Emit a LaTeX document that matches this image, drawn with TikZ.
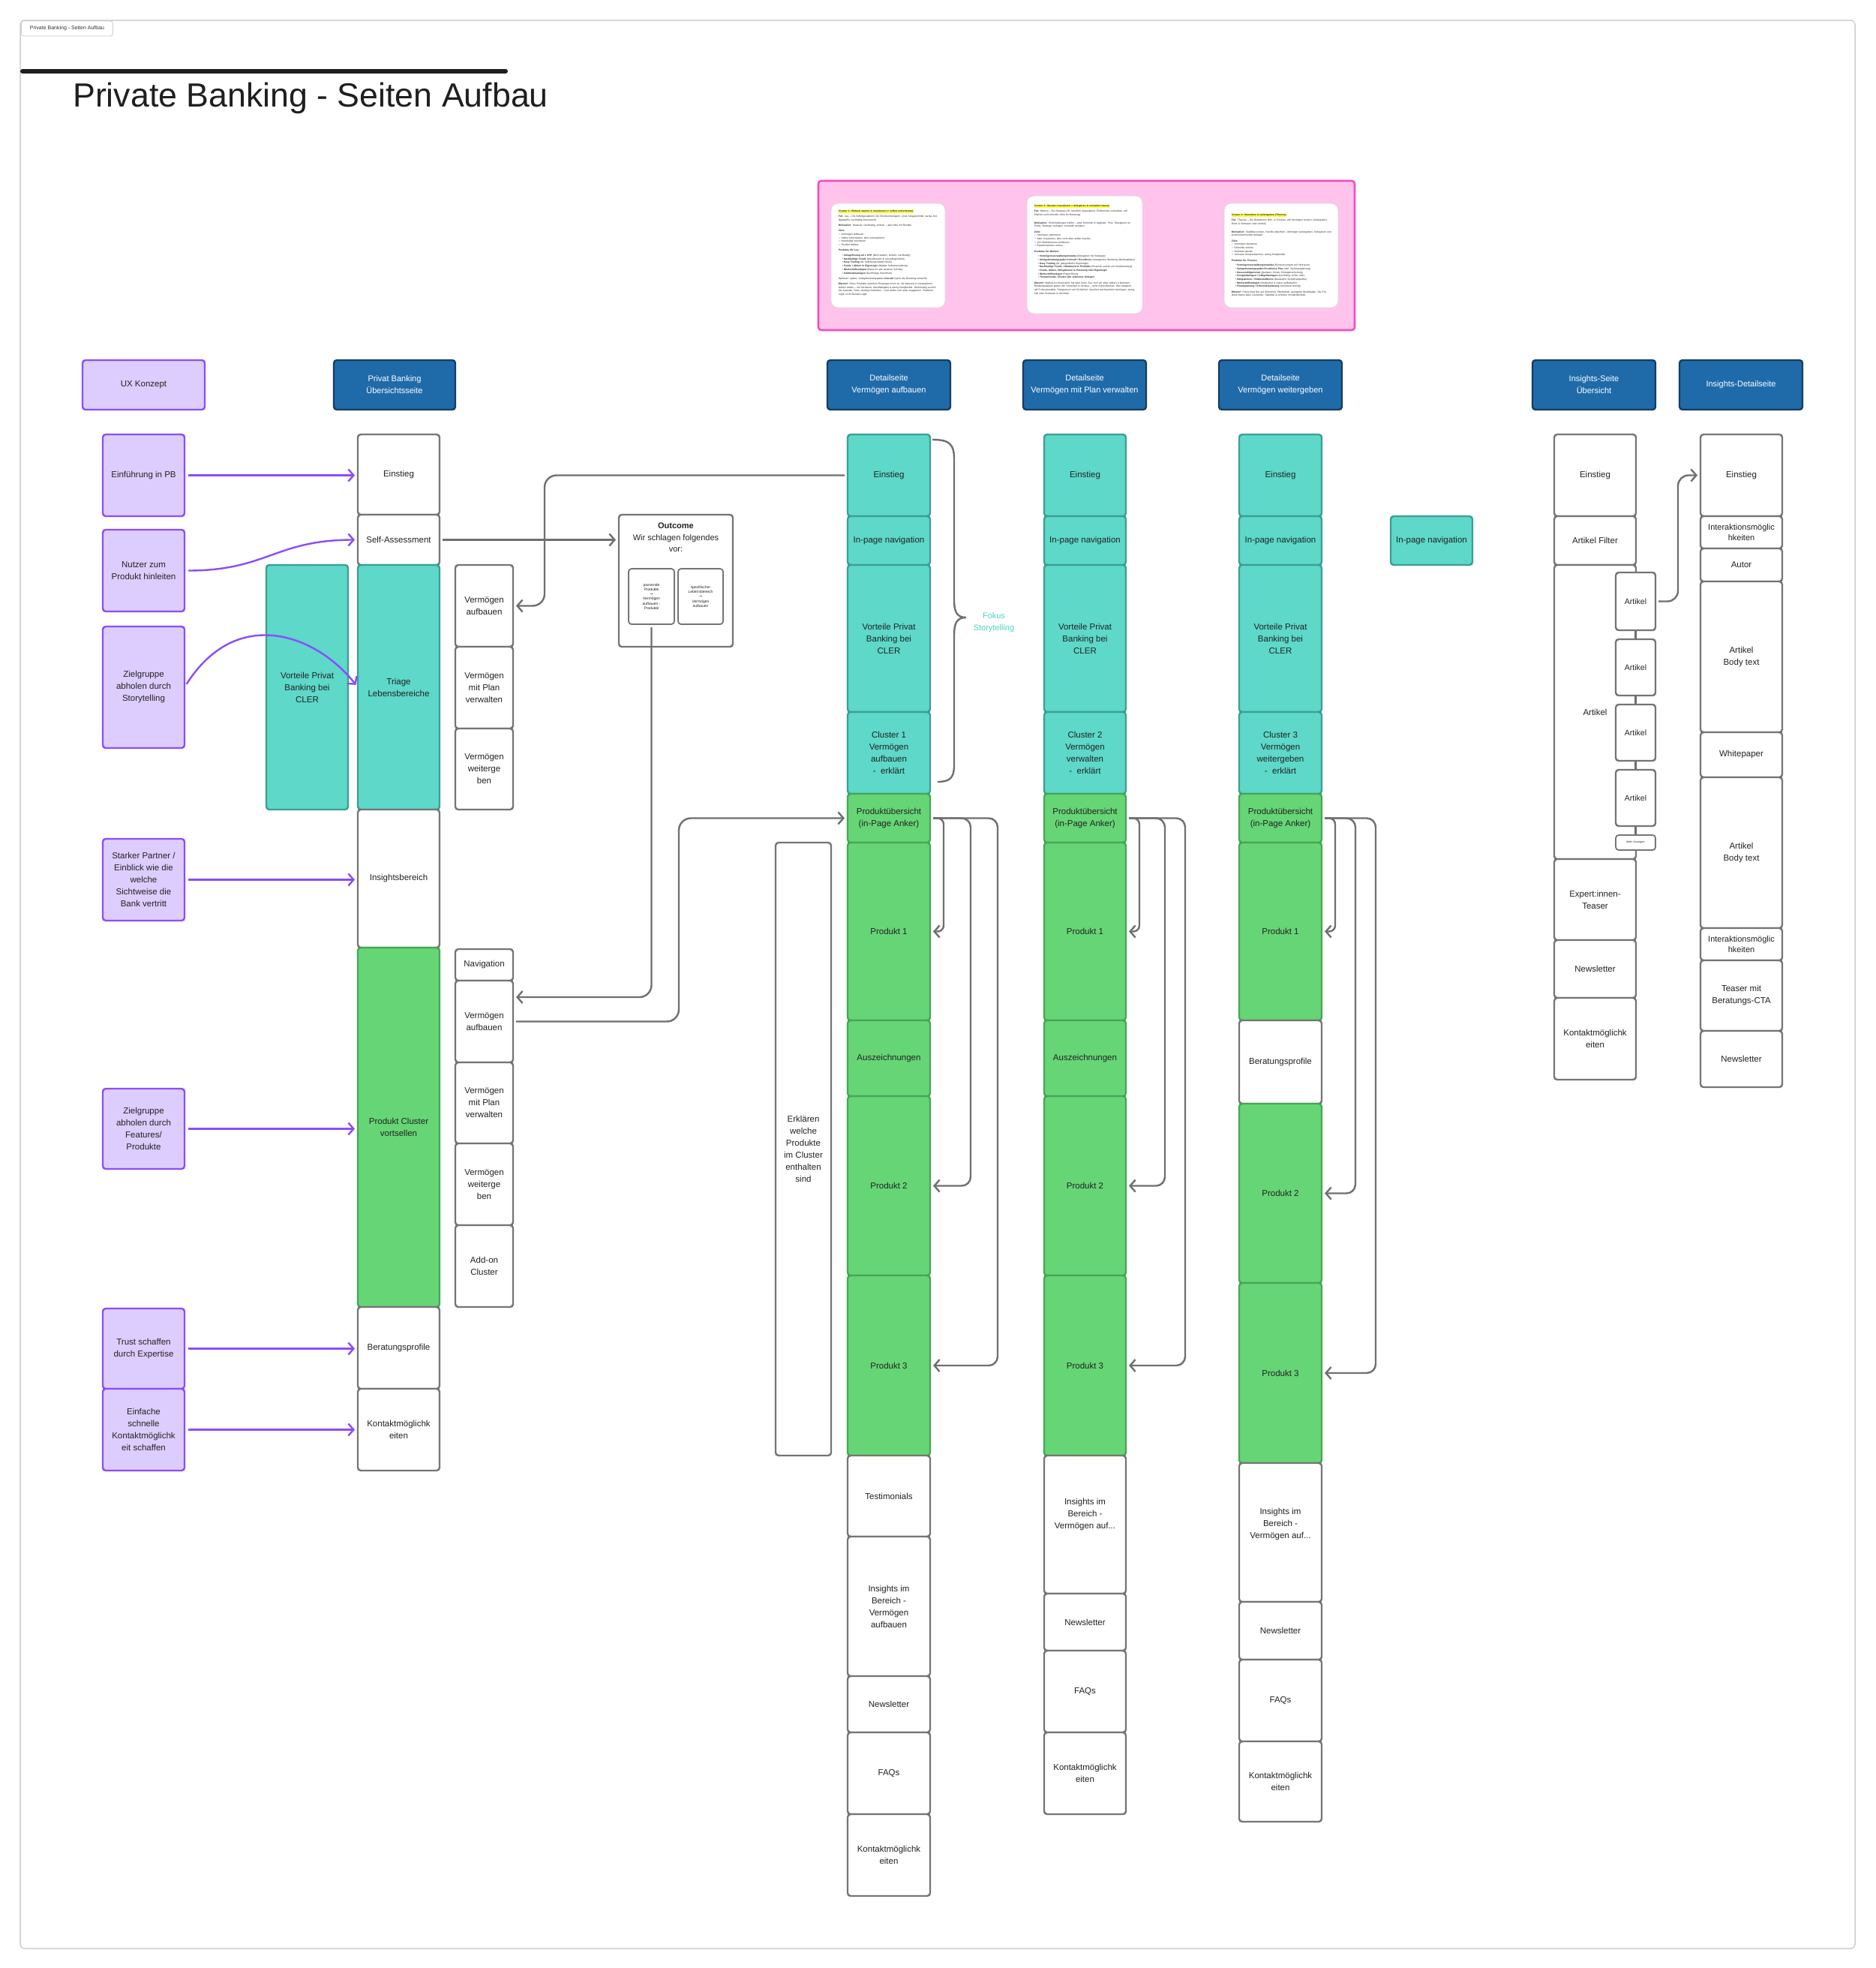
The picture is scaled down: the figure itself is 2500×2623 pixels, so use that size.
\documentclass[tikz,border=0pt]{standalone}
\usepackage{fontspec}
\setmainfont{Liberation Sans}
\newfontfamily\symf{DejaVu Sans}
\usetikzlibrary{arrows.meta,calc}

\definecolor{bordergray}{HTML}{757575}
\definecolor{linegray}{HTML}{6F6F6F}
\definecolor{tealfill}{HTML}{5DD8C9}
\definecolor{tealborder}{HTML}{3B9F92}
\definecolor{greenfill}{HTML}{66D576}
\definecolor{greenborder}{HTML}{46A656}
\definecolor{lavfill}{HTML}{DDCDFE}
\definecolor{lavborder}{HTML}{8B4DFB}
\definecolor{hdrfill}{HTML}{1F6BAA}
\definecolor{hdrborder}{HTML}{163D63}
\definecolor{purplearrow}{HTML}{8B4DFB}
\definecolor{pinkfill}{HTML}{FFC3EC}
\definecolor{pinkborder}{HTML}{F24DC2}
\definecolor{textdark}{HTML}{222222}
\definecolor{framegray}{HTML}{CFCFCF}
\definecolor{fokusteal}{HTML}{52D2C2}
\definecolor{hlyellow}{HTML}{FFFF33}
\definecolor{checkblue}{HTML}{4B3BD6}

\newcommand\myBoxFont{\fontsize{11.5}{16}\selectfont}
\newcommand\myHdrFont{\fontsize{11}{16}\selectfont}
\newcommand\myTinyFont{\fontsize{5}{6.3}\selectfont}
\newcommand\myCardFont{\fontsize{3.3}{4.7}\selectfont}
\newcommand\ck{{\symf\color{checkblue}\char"2713}~}
\newcommand\bul{\hspace*{5pt}\textbullet~}
\newcommand\rarr{{\symf\char"2192}}

\newcommand\mybox[7]{\node[#1, minimum width={#5-#3}, minimum height={#6-#4}] (#2) at ({(#3+#5)/2},{(#4+#6)/2}) {#7};}

\tikzset{
  boxbase/.style={rounded corners=4pt, line width=2.4pt, inner sep=1.5pt, outer sep=0pt, align=center, font=\myBoxFont, text=textdark},
  wb/.style={boxbase, draw=bordergray, fill=white},
  tl/.style={boxbase, draw=tealborder, fill=tealfill},
  gr/.style={boxbase, draw=greenborder, fill=greenfill},
  lav/.style={boxbase, draw=lavborder, fill=lavfill},
  hdr/.style={boxbase, draw=hdrborder, fill=hdrfill, text=white, font=\myHdrFont},
  pinkp/.style={rounded corners=4pt, line width=2.6pt, draw=pinkborder, fill=pinkfill},
  cardbox/.style={rounded corners=9pt, line width=0.8pt, draw=black!15, fill=white},
  cardtext/.style={anchor=north west, text width=#1, align=left, inner sep=0pt, font=\myCardFont, text=black!85},
  garrow/.style={draw=linegray, line width=2.4pt, rounded corners=12pt, shorten <=4pt, shorten >=4pt, -{Straight Barb[length=7pt,width=16pt]}},
  parrow/.style={draw=purplearrow, line width=2.4pt, shorten <=5pt, shorten >=4pt, -{Straight Barb[length=7pt,width=16pt]}},
  gline/.style={draw=linegray, line width=2.4pt},
}

\begin{document}
\begin{tikzpicture}[x=1pt,y=-1pt]
\useasboundingbox (0,0) rectangle (2500,2623);
\fill[white] (0,0) rectangle (2500,2623);
\draw[framegray, line width=1.5pt, rounded corners=6pt] (27,27) rectangle (2473,2597);

% tab and title
\node[draw=black!20, line width=0.8pt, rounded corners=3pt, fill=white, minimum width=122, minimum height=20, inner sep=1pt, font=\fontsize{7}{8}\selectfont, text=black!80] (tab) at (89.5,38) {Private Banking - Seiten Aufbau};
\draw[line width=6pt, line cap=round, black!88] (30,95) -- (674,95);
\node[anchor=base west, inner sep=0pt, font=\fontsize{44.7}{50}\selectfont, text=black!88] (title) at (97,142) {Private Banking - Seiten Aufbau};

% pink panel with persona cards
\mybox{pinkp}{pink}{1091}{241}{1806}{440}{}
\mybox{cardbox}{c1}{1108}{271}{1260}{410}{}
\mybox{cardbox}{c2}{1369}{261}{1523}{418}{}
\mybox{cardbox}{c3}{1632}{271}{1784}{410}{}
\setlength\fboxsep{0.4pt}
\node[cardtext=133pt] (c1t) at ($(c1.north west)+(10,9)$) {\colorbox{hlyellow}{\textbf{Cluster 1: Einfach starten \& investieren (+ selbst entscheiden)}}\\[2.5pt]
\textbf{Für:} Lea – Die Selbstgestalterin (30, Berufseinsteigerin, erste Anlageschritte, wenig Zeit, digitalaffin, nachhaltig interessiert)\\[2.5pt]
\textbf{Motivation:} Bewusst, nachhaltig, einfach – aber bitte mit Rendite\\[2.5pt]
\textbf{Ziele:}\\
\ck Vermögen aufbauen\\
\ck Selbst entscheiden, aber unkompliziert\\
\ck Nachhaltig investieren\\
\ck Flexibel bleiben\\[2.5pt]
\textbf{Produkte für Lea:}\\[2pt]
\bul\textbf{Anlagelösung ab 1 CHF} (klein starten, einfach, nachhaltig)\\
\bul\textbf{Nachhaltige Fonds} (Wertebasiert \& zukunftsgerichtet)\\
\bul\textbf{Easy Trading} (für Selbstentscheider:innen)\\
\bul\textbf{Fonds / Aktien in Eigenregie} (digitale Selbstverwaltung)\\
\bul\textbf{Wertschriftendepot} (Basis für alle weiteren Schritte)\\
\bul\textbf{Geldmarktanlagen} (kurzfristige Sicherheit)\\[2.5pt]
Optional / später: Anlageberatungspaket \textbf{Consult} (wenn die Beratung wünscht)\\[2.5pt]
\textbf{Warum?} Diese Produkte sprechen Einsteiger:innen an, die bewusst \& unkompliziert starten wollen – mit Vertrauen, Nachhaltigkeit \& wenig Komplexität. Gleichzeitig suchen Sie Auswahl, Tools, niedrige Gebühren – und wollen sich aktiv engagieren. Plattform-Logik, nicht Berater-Logik.};
\node[cardtext=135pt] (c2t) at ($(c2.north west)+(10,12)$) {\colorbox{hlyellow}{\textbf{Cluster 2: Beraten investieren = delegieren \& verwalten lassen}}\\[2.5pt]
\textbf{Für:} Markus – Der Stratege (45, beruflich eingespannt, Einkommen vorhanden, will Klarheit und Kontrolle, offen für Beratung)\\[6pt]
\textbf{Motivation:} Entscheidungen treffen – aber informiert \& begleitet. Plus: Delegieren an Profis, Strategie verfolgen, Kontrolle behalten\\[2.5pt]
\textbf{Ziele:}\\
\ck Vermögen optimieren\\
\ck Aktiv investieren, aber nicht alles selber machen\\
\ck Von Marktchancen profitieren\\
\ck Expertenwissen nutzen\\[2.5pt]
\textbf{Produkte für Markus:}\\[2pt]
\bul\textbf{Vermögensverwaltungsmandat} (Delegation mit Strategie)\\
\bul\textbf{Anlageberatungspaket Consult / Excellence} (strategische Beratung, Marktupdates)\\
\bul\textbf{Easy Trading} (für gelegentliche Eigenregie)\\
\bul\textbf{Nachhaltige Fonds / Strukturierte Produkte} (Chancen nutzen mit Verantwortung)\\
\bul\textbf{Fonds, Aktien, Obligationen in Beratung oder Eigenregie}\\
\bul\textbf{Wertschriftendepot} (Depot-Basis)\\
\bul\textbf{Themenfonds / Exoten (für erfahrene Anleger)}\\[2.5pt]
\textbf{Warum?} Markus ist interessiert, hat aber keine Zeit, sich um alles selbst zu kümmern. Beratungspakete geben ihm Sicherheit \& Struktur – ohne Kontrollverlust. Wer delegiert, will Professionalität, Transparenz und Sicherheit. Ideal bei wachsendem Vermögen, wenig Zeit oder Vertrauen in die Bank.};
\node[cardtext=133pt] (c3t) at ($(c3.north west)+(10,14)$) {\colorbox{hlyellow}{\textbf{Cluster 3: Bewahren \& weitergeben (Therese)}}\\[2.5pt]
\textbf{Für:} Therese – Die Bewahrerin (60+, in Pension, will Vermögen sichern, weitergeben, Ruhe \& Vertrauen sind zentral)\\[6pt]
\textbf{Motivation:} Stabilität sichern, Familie absichern, Vermögen weitergeben. Delegieren und sicherheitsorientiert anlegen.\\[2.5pt]
\textbf{Ziele:}\\
\ck Vermögen bewahren\\
\ck Einkünfte sichern\\
\ck Nachlass planen\\
\ck Vertraute Ansprechperson, wenig Komplexität\\[2.5pt]
\textbf{Produkte für Therese:}\\[2pt]
\bul\textbf{Vermögensverwaltungsmandat} (Rundum-sorglos mit Vertrauen)\\
\bul\textbf{Anlageberatungspaket Excellence Plus} (inkl. Nachlassplanung)\\
\bul\textbf{Kassenobligationen} (planbare Zinsen, Einlagensicherung)\\
\bul\textbf{Festgeldanlagen / Callgeldanlagen} (kurzfristig, sicher, klar)\\
\bul\textbf{Obligationen / Edelmetallkonto} (klassische Sicherheitspuffer)\\
\bul\textbf{Wertschriftendepot} (strukturiert \& sicher aufbewahrt)\\
\bul\textbf{Finanzplanung / Erbschaftsplanung} (emotional wichtig)\\[2.5pt]
\textbf{Warum?} Fokus liegt hier auf Sicherheit, Planbarkeit, geregelter Weitergabe. Die Produkte bieten klare Laufzeiten, Stabilität \& einfache Verständlichkeit.};

% headers
\mybox{lav}{hux}{110}{480}{273}{546}{UX Konzept}
\mybox{hdr}{h1}{445}{480}{607}{546}{Privat Banking\\Übersichtsseite}
\mybox{hdr}{h2}{1103}{480}{1267}{546}{Detailseite\\Vermögen aufbauen}
\mybox{hdr}{h3}{1364}{480}{1528}{546}{Detailseite\\Vermögen mit Plan verwalten}
\mybox{hdr}{h4}{1625}{480}{1789}{546}{Detailseite\\Vermögen weitergeben}
\mybox{hdr}{h5}{2043}{480}{2207}{546}{Insights-Seite\\Übersicht}
\mybox{hdr}{h6}{2239}{480}{2403}{546}{Insights-Detailseite}

% UX concept boxes
\mybox{lav}{l1}{137}{579}{246}{688}{Einführung in PB}
\mybox{lav}{l2}{137}{706}{246}{815}{Nutzer zum\\Produkt hinleiten}
\mybox{lav}{l3}{137}{835}{246}{997}{Zielgruppe\\abholen durch\\Storytelling}
\mybox{lav}{l4}{137}{1118}{246}{1227}{Starker Partner /\\Einblick wie die\\welche\\Sichtweise die\\Bank vertritt}
\mybox{lav}{l5}{137}{1451}{246}{1558}{Zielgruppe\\abholen durch\\Features/\\Produkte}
\mybox{lav}{l6}{137}{1744}{246}{1851}{Trust schaffen\\durch Expertise}
\mybox{lav}{l7}{137}{1851}{246}{1960}{Einfache\\schnelle\\Kontaktmöglichk\\eit schaffen}

% overview page
\mybox{tl}{vor}{355}{753}{464}{1079}{Vorteile Privat\\Banking bei\\CLER}
\mybox{wb}{ue}{477}{579}{586}{686}{Einstieg}
\mybox{wb}{sa}{477}{686}{586}{753}{Self-Assessment}
\mybox{tl}{tri}{477}{753}{586}{1079}{Triage\\Lebensbereiche}
\mybox{wb}{ins}{477}{1079}{586}{1263}{Insightsbereich}
\mybox{gr}{pcv}{477}{1263}{586}{1742}{Produkt Cluster\\vortsellen}
\mybox{wb}{bp}{477}{1742}{586}{1851}{Beratungsprofile}
\mybox{wb}{kon}{477}{1851}{586}{1960}{Kontaktmöglichk\\eiten}

\mybox{wb}{s1}{607}{753}{684}{862}{Vermögen\\aufbauen}
\mybox{wb}{s2}{607}{862}{684}{971}{Vermögen\\mit Plan\\verwalten}
\mybox{wb}{s3}{607}{971}{684}{1079}{Vermögen\\weiterge\\ben}
\mybox{wb}{nav}{607}{1265}{684}{1307}{Navigation}
\mybox{wb}{s4}{607}{1307}{684}{1416}{Vermögen\\aufbauen}
\mybox{wb}{s5}{607}{1416}{684}{1524}{Vermögen\\mit Plan\\verwalten}
\mybox{wb}{s6}{607}{1524}{684}{1633}{Vermögen\\weiterge\\ben}
\mybox{wb}{s7}{607}{1633}{684}{1742}{Add-on\\Cluster}

% outcome
\mybox{wb}{out}{825}{686}{977}{862}{}
\node[anchor=north, inner sep=0pt, align=center, font=\fontsize{11}{15.5}\selectfont, text=textdark] (outt) at ($(out.north)+(0,11)$) {\textbf{Outcome}\\Wir schlagen folgendes\\vor:};
\mybox{wb, line width=1.8pt, font=\myTinyFont}{oi1}{838}{758}{899}{832}{passende\\Produkte\\\rarr\\Vermögen\\aufbauen -\\Produkte}
\mybox{wb, line width=1.8pt, font=\myTinyFont}{oi2}{904}{758}{964}{832}{spezifischer\\Lebensbereich\\\rarr\\Vermögen\\aufbauen}

% detail column A
\mybox{tl}{ea}{1130}{579}{1240}{688}{Einstieg}
\mybox{tl}{na}{1130}{688}{1240}{753}{In-page navigation}
\mybox{tl}{va}{1130}{753}{1240}{949}{Vorteile Privat\\Banking bei\\CLER}
\mybox{tl}{ca}{1130}{949}{1240}{1058}{Cluster 1\\Vermögen\\aufbauen\\-\ \ erklärt}
\mybox{gr}{pa}{1130}{1058}{1240}{1123}{Produktübersicht\\(in-Page Anker)}
\mybox{gr}{pa1}{1130}{1123}{1240}{1360}{Produkt 1}
\mybox{gr}{aa}{1130}{1360}{1240}{1461}{Auszeichnungen}
\mybox{gr}{pa2}{1130}{1461}{1240}{1700}{Produkt 2}
\mybox{gr}{pa3}{1130}{1700}{1240}{1940}{Produkt 3}
\mybox{wb}{ta}{1130}{1940}{1240}{2048}{Testimonials}
\mybox{wb}{ia}{1130}{2048}{1240}{2234}{Insights im\\Bereich -\\Vermögen\\aufbauen}
\mybox{wb}{nla}{1130}{2234}{1240}{2309}{Newsletter}
\mybox{wb}{fa}{1130}{2309}{1240}{2418}{FAQs}
\mybox{wb}{ka}{1130}{2418}{1240}{2527}{Kontaktmöglichk\\eiten}

\mybox{wb}{erk}{1034}{1123}{1108}{1940}{Erklären\\welche\\Produkte\\im Cluster\\enthalten\\sind}

% detail column B
\mybox{tl}{eb}{1392}{579}{1501}{688}{Einstieg}
\mybox{tl}{nb}{1392}{688}{1501}{753}{In-page navigation}
\mybox{tl}{vb}{1392}{753}{1501}{949}{Vorteile Privat\\Banking bei\\CLER}
\mybox{tl}{cb}{1392}{949}{1501}{1058}{Cluster 2\\Vermögen\\verwalten\\-\ \ erklärt}
\mybox{gr}{pb}{1392}{1058}{1501}{1123}{Produktübersicht\\(in-Page Anker)}
\mybox{gr}{pb1}{1392}{1123}{1501}{1360}{Produkt 1}
\mybox{gr}{ab}{1392}{1360}{1501}{1461}{Auszeichnungen}
\mybox{gr}{pb2}{1392}{1461}{1501}{1700}{Produkt 2}
\mybox{gr}{pb3}{1392}{1700}{1501}{1940}{Produkt 3}
\mybox{wb}{ib}{1392}{1940}{1501}{2124}{Insights im\\Bereich -\\Vermögen auf...\\[14pt]}
\mybox{wb}{nlb}{1392}{2124}{1501}{2200}{Newsletter}
\mybox{wb}{fb}{1392}{2200}{1501}{2309}{FAQs}
\mybox{wb}{kb}{1392}{2309}{1501}{2418}{Kontaktmöglichk\\eiten}

% detail column C
\mybox{tl}{ec}{1652}{579}{1762}{688}{Einstieg}
\mybox{tl}{nc}{1652}{688}{1762}{753}{In-page navigation}
\mybox{tl}{vc}{1652}{753}{1762}{949}{Vorteile Privat\\Banking bei\\CLER}
\mybox{tl}{cc}{1652}{949}{1762}{1058}{Cluster 3\\Vermögen\\weitergeben\\-\ \ erklärt}
\mybox{gr}{pc}{1652}{1058}{1762}{1123}{Produktübersicht\\(in-Page Anker)}
\mybox{gr}{pc1}{1652}{1123}{1762}{1360}{Produkt 1}
\mybox{wb}{bc}{1652}{1360}{1762}{1471}{Beratungsprofile}
\mybox{gr}{pc2}{1652}{1471}{1762}{1710}{Produkt 2}
\mybox{gr}{pc3}{1652}{1710}{1762}{1950}{Produkt 3}
\mybox{wb}{ic}{1652}{1950}{1762}{2135}{Insights im\\Bereich -\\Vermögen auf...\\[8pt]}
\mybox{wb}{nlc}{1652}{2135}{1762}{2212}{Newsletter}
\mybox{wb}{fc}{1652}{2212}{1762}{2321}{FAQs}
\mybox{wb}{kc}{1652}{2321}{1762}{2428}{Kontaktmöglichk\\eiten}

\mybox{tl}{ipn}{1854}{688}{1963}{753}{In-page navigation}

% insights overview
\mybox{wb}{iue}{2072}{579}{2181}{688}{Einstieg}
\mybox{wb}{iaf}{2072}{688}{2181}{753}{Artikel Filter}
\mybox{wb}{iart}{2072}{753}{2181}{1145}{Artikel}
\mybox{wb}{iex}{2072}{1145}{2181}{1253}{Expert:innen-\\Teaser}
\mybox{wb}{inl}{2072}{1253}{2181}{1330}{Newsletter}
\mybox{wb}{ik}{2072}{1330}{2181}{1439}{Kontaktmöglichk\\eiten}
\draw[gline] (2180.5,840) -- (2180.5,1113);
\mybox{wb, font=\fontsize{10.5}{13}\selectfont}{a1}{2154}{763}{2207}{840}{Artikel}
\mybox{wb, font=\fontsize{10.5}{13}\selectfont}{a2}{2154}{852}{2207}{927}{Artikel}
\mybox{wb, font=\fontsize{10.5}{13}\selectfont}{a3}{2154}{939}{2207}{1014}{Artikel}
\mybox{wb, font=\fontsize{10.5}{13}\selectfont}{a4}{2154}{1026}{2207}{1101}{Artikel}
\mybox{wb, line width=1.8pt, font=\fontsize{3.6}{4}\selectfont, inner sep=0.5pt}{am}{2154}{1113}{2207}{1133}{Mehr Anzeigen}

% insights detail
\mybox{wb}{ide}{2267}{579}{2376}{688}{Einstieg}
\mybox{wb, font=\fontsize{11}{14}\selectfont}{iint1}{2267}{688}{2376}{731}{Interaktionsmöglic\\hkeiten}
\mybox{wb}{iau}{2267}{731}{2376}{775}{Autor}
\mybox{wb}{ibt1}{2267}{775}{2376}{976}{Artikel\\Body text}
\mybox{wb}{iwp}{2267}{976}{2376}{1036}{Whitepaper}
\mybox{wb}{ibt2}{2267}{1036}{2376}{1237}{Artikel\\Body text}
\mybox{wb, font=\fontsize{11}{14}\selectfont}{iint2}{2267}{1237}{2376}{1280}{Interaktionsmöglic\\hkeiten}
\mybox{wb}{itc}{2267}{1280}{2376}{1374}{Teaser mit\\Beratungs-CTA}
\mybox{wb}{inl2}{2267}{1374}{2376}{1449}{Newsletter}

% brace and Fokus label
\draw[gline] (1243,586) .. controls (1266,586) and (1272,592) .. (1272,612) -- (1272,800) .. controls (1272,816) and (1276,823) .. (1288,823) .. controls (1276,823) and (1272,830) .. (1272,846) -- (1272,1020) .. controls (1272,1037) and (1266,1042) .. (1250,1042);
\node[align=center, font=\fontsize{11}{16}\selectfont, text=fokusteal, inner sep=0pt] (fokus) at (1325,830) {Fokus\\Storytelling};

% purple arrows
\draw[parrow] (l1.east) -- (l1.east -| ue.west);
\draw[parrow] (l2.east) .. controls +(110,0) and +(-110,0) .. (sa.west);
\draw[parrow] (l3.east) .. controls +(70,-110) and +(-55,-70) .. (tri.west);
\draw[parrow] (l4.east) -- (l4.east -| ins.west);
\draw[parrow] (l5.east) -- (l5.east -| pcv.west);
\draw[parrow] (l6.east) -- (l6.east -| bp.west);
\draw[parrow] (l7.east) -- (l7.east -| kon.west);

% gray connectors
\draw[garrow] (sa.east) -- (sa.east -| out.west);
\draw[garrow, rounded corners=16pt] (ea.west) -- ++(-404,0) |- (s1.east);
\draw[garrow, rounded corners=16pt] (oi1.south) |- ($(s4.north east)+(0,22)$);
\draw[garrow, rounded corners=16pt] (s4.east) -- ++(221,0) |- (pa.west);

\draw[garrow, rounded corners=8pt] (pa.east) -- ++(18,0) |- (pa1.east);
\draw[garrow] (pa.east) -- ++(54,0) |- (pa2.east);
\draw[garrow] (pa.east) -- ++(90,0) |- (pa3.east);
\draw[garrow, rounded corners=8pt] (pb.east) -- ++(18,0) |- (pb1.east);
\draw[garrow] (pb.east) -- ++(52,0) |- (pb2.east);
\draw[garrow] (pb.east) -- ++(79,0) |- (pb3.east);
\draw[garrow, rounded corners=8pt] (pc.east) -- ++(18,0) |- (pc1.east);
\draw[garrow] (pc.east) -- ++(45,0) |- (pc2.east);
\draw[garrow] (pc.east) -- ++(72,0) |- (pc3.east);

\draw[garrow, rounded corners=14pt] (a1.east) -- ++(30,0) |- (ide.west);
\end{tikzpicture}
\end{document}
